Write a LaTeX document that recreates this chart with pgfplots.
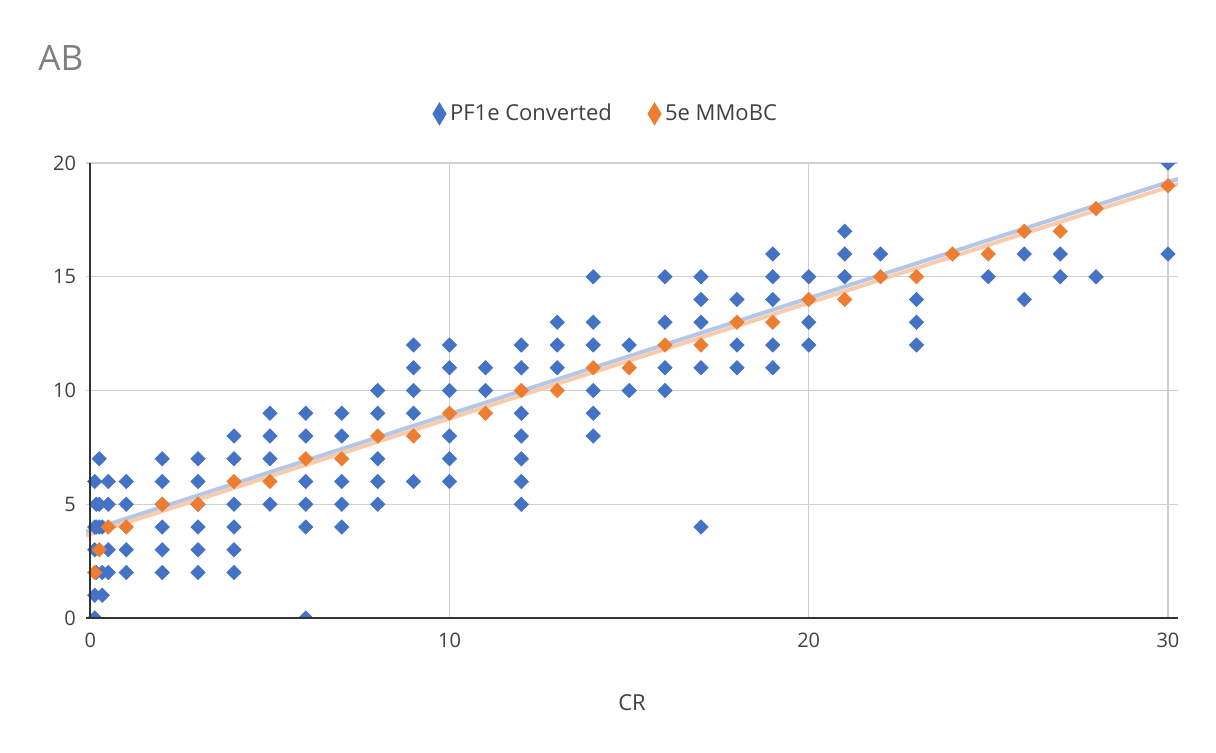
\documentclass[border=0pt]{standalone}
\usepackage{fontspec}
\setmainfont{Open Sans}
\usepackage{pgfplots}
\pgfplotsset{compat=1.18}
\definecolor{cblue}{HTML}{4472C4}
\definecolor{corange}{HTML}{ED7D31}
\definecolor{tblue}{HTML}{B4C7E7}
\definecolor{torange}{HTML}{F8CBAD}
\definecolor{gridc}{HTML}{D0D0D0}
\definecolor{txt}{HTML}{404040}
\definecolor{ttl}{HTML}{7F7F7F}
\definecolor{axc}{HTML}{333333}
\begin{document}
\begin{tikzpicture}
\begin{axis}[
  name=ax, scale only axis, width=546pt, height=227.5pt,
  xmin=-0.12, xmax=30.28, ymin=0, ymax=20,
  xtick={0,10,20,30}, ytick={0,5,10,15,20},
  grid=major, major grid style={gridc, line width=0.7pt},
  axis line style={draw=none}, major tick length=0pt,
  tick label style={font=\fontsize{10}{12}\selectfont, text=txt},
  /pgf/number format/assume math mode=true,
  yticklabel style={xshift=-1.5pt},
  xticklabel style={yshift=-4pt},
  xlabel={CR},
  xlabel style={at={(axis description cs:0.5,-0.187)}, anchor=center, font=\fontsize{11}{13}\selectfont, text=txt},
  clip marker paths=true,
  legend style={at={(0.477,1.108)}, anchor=center, draw=none, fill=none,
    legend columns=2, font=\fontsize{11}{13}\selectfont, text=txt,
    /tikz/every even column/.append style={column sep=16pt}},
  legend cell align=left,
]
\addplot[forget plot, tblue, line width=2pt] coordinates {(-0.12,3.80) (30.28,19.30)};
\addplot[forget plot, torange, line width=2pt] coordinates {(-0.12,3.62) (30.28,19.08)};
\addplot[only marks, mark=square*, mark size=2.5pt, color=cblue,
  mark options={rotate=45, fill=cblue, draw=cblue},
  legend image post style={mark=diamond*, mark size=5.5pt, mark options={xscale=0.8, rotate=0}}]
coordinates {
(0.125,6)(0.125,4)(0.125,3)(0.125,1)(0.125,0)
(0.167,5)(0.167,4)(0.167,2)
(0.25,7)(0.25,5)(0.25,4)(0.333,4)(0.333,2)(0.333,1)
(0.5,6)(0.5,5)(0.5,3)(0.5,2)
(1,6)(1,5)(1,3)(1,2)
(2,7)(2,6)(2,5)(2,4)(2,3)(2,2)
(3,7)(3,6)(3,5)(3,4)(3,3)(3,2)
(4,8)(4,7)(4,5)(4,4)(4,3)(4,2)
(5,9)(5,8)(5,7)(5,5)
(6,9)(6,8)(6,6)(6,5)(6,4)(6,0)
(7,9)(7,8)(7,6)(7,5)(7,4)
(8,10)(8,9)(8,7)(8,6)(8,5)
(9,12)(9,11)(9,10)(9,9)(9,6)
(10,12)(10,11)(10,10)(10,8)(10,7)(10,6)
(11,11)(11,10)
(12,12)(12,11)(12,9)(12,8)(12,7)(12,6)(12,5)
(13,13)(13,12)(13,11)
(14,15)(14,13)(14,12)(14,10)(14,9)(14,8)
(15,12)(15,10)
(16,15)(16,13)(16,11)(16,10)
(17,15)(17,14)(17,13)(17,11)(17,4)
(18,14)(18,12)(18,11)
(19,16)(19,15)(19,14)(19,12)(19,11)
(20,15)(20,13)(20,12)
(21,17)(21,16)(21,15)
(22,16)
(23,14)(23,13)(23,12)
(25,15)
(26,16)(26,14)
(27,16)(27,15)
(28,15)
(30,20)(30,16)
};
\addlegendentry{PF1e Converted}
\addplot[only marks, mark=square*, mark size=2.5pt, color=corange,
  mark options={rotate=45, fill=corange, draw=corange},
  legend image post style={mark=diamond*, mark size=5.5pt, mark options={xscale=0.8, rotate=0}}]
coordinates {
(0.125,2)(0.25,3)(0.5,4)(1,4)(2,5)(3,5)(4,6)(5,6)(6,7)(7,7)(8,8)(9,8)
(10,9)(11,9)(12,10)(13,10)(14,11)(15,11)(16,12)(17,12)(18,13)(19,13)
(20,14)(21,14)(22,15)(23,15)(24,16)(25,16)(26,17)(27,17)(28,18)(30,19)
};
\addlegendentry{5e MMoBC}
\draw[axc, line width=1pt] (axis cs:-0.12,0) -- (axis cs:30.28,0);
\draw[axc, line width=1pt] (axis cs:0,0) -- (axis cs:0,20);
\end{axis}
\path (ax.south west) ++(-24pt,280pt) node[anchor=west, text=ttl, font=\fontsize{17.5}{21}\selectfont, inner sep=0pt] {AB};
\path[use as bounding box] (ax.south west) ++(-43pt,-67pt) rectangle ++(608pt,376pt);
\end{tikzpicture}
\end{document}
